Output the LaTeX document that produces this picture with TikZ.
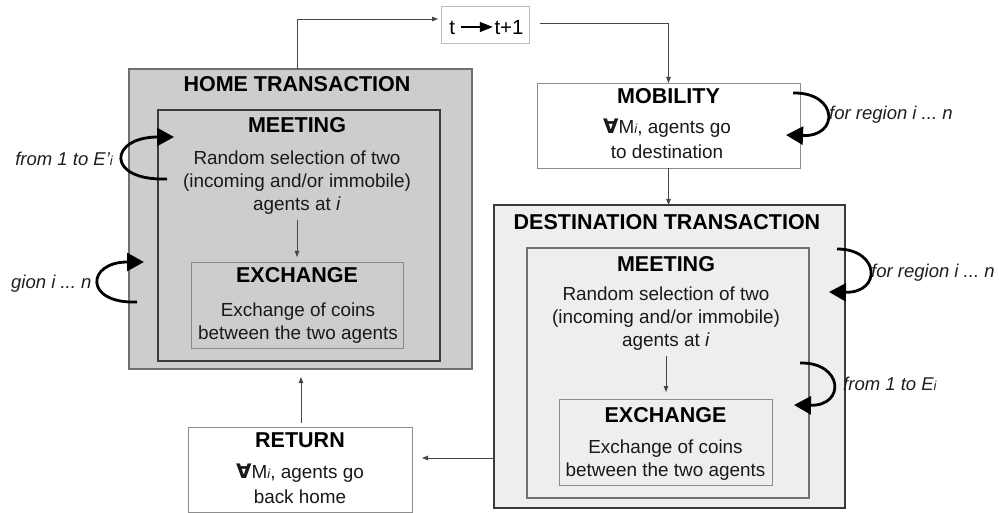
\documentclass[tikz,border=0pt]{standalone}
\usepackage{fontspec}
\setmainfont{Liberation Sans}
\newfontfamily\dejavu{DejaVu Sans}
\usetikzlibrary{arrows.meta}
\frenchspacing
\definecolor{homegray}{HTML}{CDCDCD}
\definecolor{homeedge}{HTML}{707070}
\definecolor{darkedge}{HTML}{3A3A3A}
\definecolor{lightedge}{HTML}{8C8C8C}
\definecolor{destgray}{HTML}{EEEEEE}
\definecolor{tedge}{HTML}{BDBDBD}
\newcommand{\fa}{{\dejavu\bfseries\fontsize{20}{20}\selectfont ∀}}
\newcommand{\smi}{{\fontsize{13}{13}\selectfont\itshape i}}
\tikzset{
  box/.style={draw, rectangle, inner sep=0pt, outer sep=0pt},
  ttl/.style={font=\fontsize{21.5}{24}\selectfont\bfseries, inner sep=0pt, anchor=base, text=black},
  body/.style={font=\fontsize{18.9}{23}\selectfont, align=center, inner sep=0pt, anchor=north, text=black!90},
  lbl/.style={font=\fontsize{18.5}{22}\selectfont\itshape, inner sep=0pt, text=black!88},
  conn/.style={draw=black!72, line width=0.8pt, -{Triangle[length=6pt,width=4.5pt]}},
  loopar/.style={line width=2.8pt, black, -{Triangle[length=17pt,width=18pt]}}
}
\begin{document}
\begin{tikzpicture}[x=1pt,y=-1pt]
\useasboundingbox (0,0) rectangle (999,513);

% outer boxes
\node[box, fill=homegray, draw=homeedge, line width=1.4pt, minimum width=343pt, minimum height=300pt] (home) at (300.5,219) {};
\node[box, draw=darkedge, line width=1.4pt, minimum width=282pt, minimum height=251pt] (hmeet) at (299,235.5) {};
\node[box, draw=lightedge, line width=0.8pt, minimum width=212pt, minimum height=86pt] (hex) at (297,305) {};

\node[box, fill=destgray, draw=darkedge, line width=1.3pt, minimum width=351pt, minimum height=303pt] (dest) at (669.5,356.5) {};
\node[box, draw=homeedge, line width=1.3pt, minimum width=282pt, minimum height=250pt] (dmeet) at (668,373) {};
\node[box, draw=lightedge, line width=0.8pt, minimum width=213pt, minimum height=86pt] (dex) at (665.5,442) {};

\node[box, fill=white, draw=lightedge, line width=0.9pt, minimum width=263pt, minimum height=85pt] (mob) at (668.5,125.5) {};
\node[box, fill=white, draw=lightedge, line width=0.9pt, minimum width=224pt, minimum height=85pt] (ret) at (300,469.5) {};
\node[box, fill=white, draw=tedge, line width=0.9pt, minimum width=88pt, minimum height=37pt] (tbox) at (485,24.5) {};

% titles
\node[ttl] (hometitle) at (297,92) {HOME TRANSACTION};
\node[ttl] (hmeettitle) at (297,133) {MEETING};
\node[ttl] (hextitle) at (297,283) {EXCHANGE};
\node[ttl] (rettitle) at (300,447) {RETURN};
\node[ttl] (mobtitle) at (668.5,104) {MOBILITY};
\node[ttl] (desttitle) at (667,230) {DESTINATION TRANSACTION};
\node[ttl] (dmeettitle) at (666,272) {MEETING};
\node[ttl] (dextitle) at (665.5,422) {EXCHANGE};

% bodies
\node[body] (hmb) at (297,150.5) {Random selection of two\\(incoming and/or immobile)\\agents at \textit{i}};
\node[body] (hxb) at (298,302.5) {Exchange of coins\\between the two agents};
\node[body] (dmb) at (666,286.5) {Random selection of two\\(incoming and/or immobile)\\agents at \textit{i}};
\node[body] (dxb) at (665.5,439.5) {Exchange of coins\\between the two agents};
\node[body, font=\fontsize{18.9}{25.5}\selectfont] (mb) at (667,118.5) {\fa M\smi, agents go\\to destination};
\node[body, font=\fontsize{18.9}{25.5}\selectfont] (rb) at (300,463.5) {\fa M\smi, agents go\\back home};

% t -> t+1
\node[anchor=base, inner sep=0pt, font=\fontsize{20.5}{22}\selectfont] (ttext) at (486.5,35) {t\hspace{5pt}\tikz[baseline=-8pt]\draw[line width=1.4pt,-{Triangle[length=13pt,width=10pt]}] (0pt,0pt)--(32pt,0pt);\hspace{1pt}t+1};

% connectors
\draw[conn, shorten >=3pt] ([xshift=-2.8pt]home.north) |- ([yshift=5.5pt]tbox.west);
\draw[conn, shorten <=11pt] ([yshift=1.5pt]tbox.east) -| (mob.north);
\draw[conn] (mob.south) -- (mob.south |- dest.north);
\draw[conn, shorten <=5pt, shorten >=5pt] (hmb.south) -- (hmb.south |- hex.north);
\draw[conn, shorten <=5pt, shorten >=7pt] (dmb.south) -- (dmb.south |- dex.north);
\draw[conn, shorten <=4pt, shorten >=8pt] ([xshift=1pt]ret.north) -- ([xshift=1pt]ret.north |- home.south);
\coordinate (dw) at ([yshift=-101.5pt]dest.west);
\draw[conn, shorten >=10pt] (dw) -- (dw -| ret.east);

% loop arrows
\coordinate (l1s) at (167,179); \coordinate (l1e) at (174,137);
\draw[loopar] (l1s) .. controls (105,181) and (109,137) .. (l1e);
\coordinate (l2s) at (137,302); \coordinate (l2e) at (144,262);
\draw[loopar] (l2s) .. controls (84,304) and (86,262) .. (l2e);
\coordinate (l3s) at (793,93); \coordinate (l3e) at (786,135);
\draw[loopar] (l3s) .. controls (838,92) and (840,137) .. (l3e);
\coordinate (l4s) at (837,249); \coordinate (l4e) at (829,292);
\draw[loopar] (l4s) .. controls (880,249) and (882,293) .. (l4e);
\coordinate (l5s) at (800,363); \coordinate (l5e) at (794,405);
\draw[loopar] (l5s) .. controls (843,362) and (846,406) .. (l5e);

% loop labels
\node[lbl, anchor=base east] (lab1) at (113,166) {from 1 to E'\smi};
\node[lbl, anchor=base west] (lab2) at (11,288) {gion i ... n};
\node[lbl, anchor=base west] (lab3) at (829,120) {for region i ... n};
\node[lbl, anchor=base west] (lab4) at (871,277) {for region i ... n};
\node[lbl, anchor=base west] (lab5) at (843,390) {from 1 to E\smi};
\end{tikzpicture}
\end{document}
